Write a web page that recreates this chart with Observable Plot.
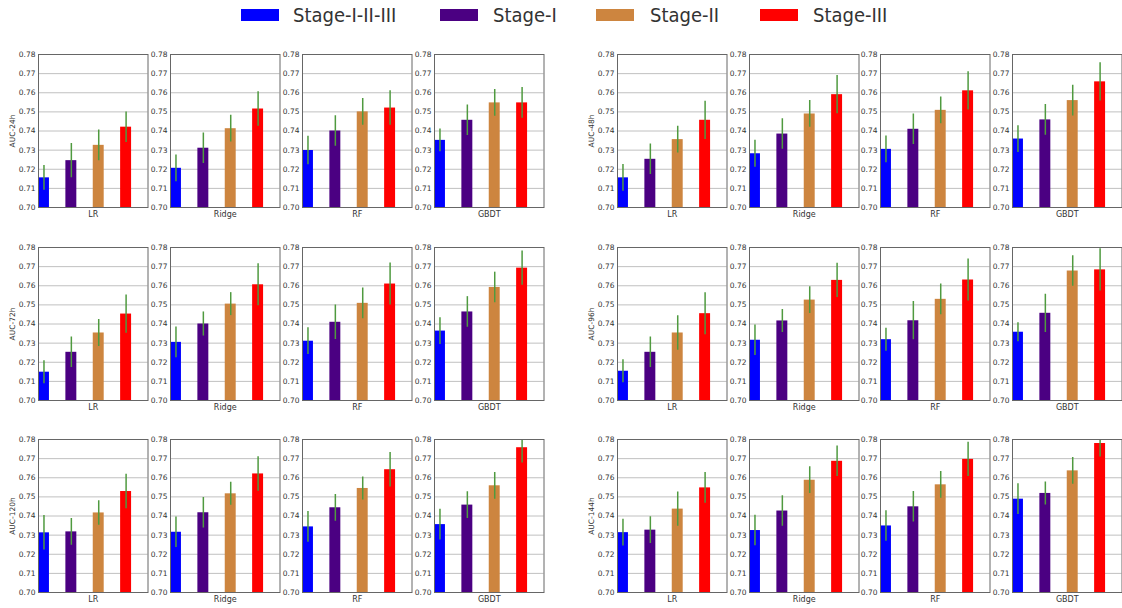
<!DOCTYPE html>
<html>
<head>
<meta charset="utf-8">
<script src="https://cdn.jsdelivr.net/npm/d3@7"></script>
<script src="https://cdn.jsdelivr.net/npm/@observablehq/plot@0.6"></script>
<style>
  html, body { margin: 0; padding: 0; background: #fff; }
  #root { position: relative; width: 1122px; height: 608px; overflow: hidden; font-family: "DejaVu Sans", sans-serif; }
  .panel { position: absolute; }
  .panel svg { max-width: none !important; }
  .leg-sw { position: absolute; height: 12px; width: 38px; }
  .leg-tx { position: absolute; font-family: "DejaVu Sans Condensed", "Liberation Sans", sans-serif; font-size: 20px; color: #333; line-height: 20px; white-space: nowrap; }
</style>
</head>
<body>
<div id="root"></div>
<script>
// ---- data ----
const stages = ["Stage-I-II-III", "Stage-I", "Stage-II", "Stage-III"];
const stageColors = ["#0000ff", "#4b0082", "#cd853f", "#ff0000"];
const models = ["LR", "Ridge", "RF", "GBDT"];
const horizons = ["24h", "48h", "72h", "96h", "120h", "144h"];
const yTicks = [0.70, 0.71, 0.72, 0.73, 0.74, 0.75, 0.76, 0.77, 0.78];

// AUC per model (rows: LR, Ridge, RF, GBDT), per stage (columns)
const auc24 = [[0.7155, 0.7245, 0.7325, 0.7420], [0.7205, 0.7310, 0.7412, 0.7515], [0.7298, 0.7400, 0.7500, 0.7520], [0.7351, 0.7456, 0.7547, 0.7547]];
const err24 = [[0.0065, 0.009, 0.008, 0.008], [0.007, 0.008, 0.007, 0.009], [0.0075, 0.008, 0.007, 0.009], [0.006, 0.008, 0.007, 0.008]];
const auc48 = [[0.7155, 0.7252, 0.7355, 0.7456], [0.7281, 0.7384, 0.7489, 0.7590], [0.7304, 0.7409, 0.7508, 0.7610], [0.7358, 0.7458, 0.7559, 0.7657]];
const err48 = [[0.007, 0.008, 0.007, 0.010], [0.007, 0.008, 0.007, 0.010], [0.007, 0.008, 0.007, 0.010], [0.007, 0.008, 0.008, 0.010]];
const auc72 = [[0.7148, 0.7252, 0.7353, 0.7452], [0.7304, 0.7400, 0.7504, 0.7605], [0.7310, 0.7409, 0.7508, 0.7609], [0.7363, 0.7463, 0.7591, 0.7692]];
const err72 = [[0.006, 0.008, 0.007, 0.010], [0.008, 0.0063, 0.006, 0.011], [0.007, 0.009, 0.008, 0.011], [0.007, 0.008, 0.008, 0.009]];
const auc96 = [[0.7153, 0.7252, 0.7353, 0.7454], [0.7315, 0.7416, 0.7525, 0.7628], [0.7318, 0.7417, 0.7529, 0.7630], [0.7357, 0.7456, 0.7677, 0.7683]];
const err96 = [[0.006, 0.008, 0.009, 0.011], [0.008, 0.006, 0.007, 0.009], [0.006, 0.010, 0.008, 0.011], [0.005, 0.010, 0.008, 0.011]];
const auc120 = [[0.7312, 0.7317, 0.7416, 0.7528], [0.7315, 0.7417, 0.7516, 0.7620], [0.7343, 0.7443, 0.7544, 0.7642], [0.7355, 0.7457, 0.7558, 0.7757]];
const err120 = [[0.009, 0.007, 0.0064, 0.009], [0.008, 0.008, 0.006, 0.009], [0.008, 0.007, 0.006, 0.009], [0.008, 0.007, 0.007, 0.008]];
const auc144 = [[0.7313, 0.7326, 0.7436, 0.7547], [0.7324, 0.7426, 0.7587, 0.7686], [0.7348, 0.7448, 0.7563, 0.7696], [0.7488, 0.7518, 0.7636, 0.7779]];
const err144 = [[0.007, 0.007, 0.009, 0.008], [0.008, 0.008, 0.007, 0.008], [0.008, 0.008, 0.007, 0.009], [0.008, 0.006, 0.007, 0.007]];

const aucByHorizon = [auc24, auc48, auc72, auc96, auc120, auc144];
const errByHorizon = [err24, err48, err72, err96, err120, err144];

// ---- layout ----
const root = document.getElementById("root");
const colStart = [38, 617.3];
const colStep = [132, 131.5];
const rowTop = [53.5, 246.5, 439];
const frameW = 109.5, frameH = 153;
const mTop = 6, mBottom = 16, mRight = 3;

// legend
const legX = [240.5, 440, 596, 760];
const legTextX = [293, 493, 650, 813];
stages.forEach((s, i) => {
  const sw = document.createElement("div");
  sw.className = "leg-sw";
  sw.style.left = legX[i] + "px";
  sw.style.top = "9px";
  sw.style.background = stageColors[i];
  root.appendChild(sw);
  const tx = document.createElement("div");
  tx.className = "leg-tx";
  tx.style.left = legTextX[i] + "px";
  tx.style.top = "5px";
  tx.textContent = s;
  root.appendChild(tx);
});

horizons.forEach((h, g) => {
  const col = g % 2, row = Math.floor(g / 2);
  models.forEach((model, m) => {
    const first = m === 0;
    const mLeft = first ? 34 : 24;
    const W = mLeft + frameW + mRight, H = mTop + frameH + mBottom;
    const data = stages.map((s, i) => ({
      stage: s, i, value: aucByHorizon[g][m][i], err: errByHorizon[g][m][i]
    }));
    const chart = Plot.plot({
      width: W,
      height: H,
      marginLeft: mLeft, marginRight: mRight, marginTop: mTop, marginBottom: mBottom,
      style: { background: "transparent", fontSize: "7.5px", color: "#333", fontFamily: "DejaVu Sans, sans-serif", maxWidth: "none" },
      x: { domain: [0, 4], axis: null },
      y: {
        domain: [0.70, 0.78], ticks: yTicks, tickFormat: d3.format(".2f"),
        tickSize: 0, tickPadding: 3,
        label: first ? "AUC-" + h : null, labelArrow: "none", labelAnchor: "center", labelOffset: 29
      },
      color: { domain: stages, range: stageColors },
      marks: [
        Plot.ruleY(yTicks, { stroke: "#c0c0c0", strokeWidth: 1 }),
        Plot.rect(data, {
          x1: d => d.i, x2: d => d.i + 0.4,
          y1: () => 0.70, y2: "value", fill: "stage"
        }),
        Plot.ruleX(data, {
          x: d => d.i + 0.2, y1: d => d.value - d.err, y2: d => d.value + d.err,
          stroke: "#4f9a3f", strokeWidth: 1.5, clip: true
        }),
        Plot.frame({ stroke: "#666", strokeWidth: 1 }),
        Plot.text([model], { frameAnchor: "bottom", lineAnchor: "top", dy: 4, fontSize: 8, fill: "#333", text: d => d })
      ]
    });
    const wrap = document.createElement("div");
    wrap.className = "panel";
    wrap.style.left = (colStart[col] + m * colStep[col] - mLeft) + "px";
    wrap.style.top = (rowTop[row] - mTop) + "px";
    wrap.style.width = W + "px";
    wrap.style.height = H + "px";
    wrap.appendChild(chart);
    root.appendChild(wrap);
  });
});
</script>
</body>
</html>
